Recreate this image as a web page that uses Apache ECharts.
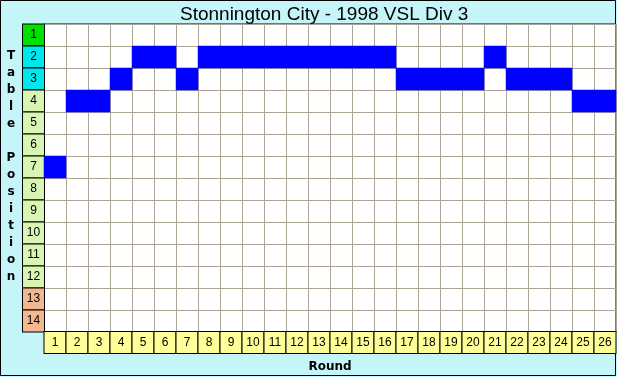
<!DOCTYPE html>
<html>
<head>
<meta charset="utf-8">
<script src="https://cdn.jsdelivr.net/npm/echarts@6/dist/echarts.min.js"></script>
<style>
  html, body { margin: 0; padding: 0; background: #c6f5f9; overflow: hidden; }
  #chart { width: 617px; height: 377px; }
</style>
</head>
<body>
<div id="chart"></div>
<script>
// rounds along the bottom, table positions down the side
const rounds = ['1','2','3','4','5','6','7','8','9','10','11','12','13','14','15','16','17','18','19','20','21','22','23','24','25','26'];
const positions = ['1','2','3','4','5','6','7','8','9','10','11','12','13','14'];
// ladder position after each round
const ladder = [7, 4, 4, 3, 2, 2, 3, 2, 2, 2, 2, 2, 2, 2, 2, 2, 3, 3, 3, 3, 2, 3, 3, 3, 4, 4];
// band of each position: top / finals / middle / relegation
const bands = ['top','fin','fin','mid','mid','mid','mid','mid','mid','mid','mid','mid','rel','rel'];

const myChart = echarts.init(document.getElementById('chart'));

function box(bg) {
    return {
        width: 21, height: 21, align: 'center', verticalAlign: 'middle',
        backgroundColor: bg, borderColor: '#000', borderWidth: 1,
        fontFamily: 'Liberation Sans, Arial, sans-serif', fontSize: 12, color: '#000'
    };
}

const cells = ladder.map((p, i) => [i, p - 1, 1]);

const option = {
    animation: false,
    backgroundColor: '#c6f5f9',
    title: {
        text: 'Stonnington City - 1998 VSL Div 3',
        left: 175,
        top: 0,
        textStyle: { fontFamily: 'Liberation Sans, Arial, sans-serif', fontSize: 19, fontWeight: 'normal', color: '#000' }
    },
    graphic: [
        {
            type: 'rect', z: -10, silent: true,
            shape: { x: 0.5, y: 0.5, width: 615, height: 375 },
            style: { fill: 'none', stroke: '#000', lineWidth: 1 }
        },
        {
            type: 'text', x: 11, y: 47, silent: true,
            style: {
                text: 'T\na\nb\nl\ne\n\nP\no\ns\ni\nt\ni\no\nn',
                fontFamily: 'DejaVu Sans, Verdana, sans-serif', fontSize: 12, fontWeight: 'bold',
                lineHeight: 17, align: 'center', verticalAlign: 'top', fill: '#000'
            }
        }
    ],
    grid: {
        left: 44, top: 24, width: 572, height: 308,
        outerBoundsMode: 'none',
        show: true, backgroundColor: '#fff', borderColor: '#000', borderWidth: 1
    },
    xAxis: {
        type: 'category',
        data: rounds,
        name: 'Round',
        nameLocation: 'middle',
        nameGap: 29,
        nameTextStyle: { fontFamily: 'DejaVu Sans, Verdana, sans-serif', fontSize: 12, fontWeight: 'bold', color: '#000' },
        axisLine: { show: false },
        axisTick: { show: false },
        axisLabel: {
            margin: 0, interval: 0,
            formatter: v => '{y|' + v + '}',
            rich: { y: box('#ffff99') }
        },
        splitLine: { show: true, interval: 0, lineStyle: { color: '#aca494', width: 1 } }
    },
    yAxis: {
        type: 'category',
        data: positions,
        inverse: true,
        axisLine: { show: false },
        axisTick: { show: false },
        axisLabel: {
            margin: 0, interval: 0,
            formatter: (v, i) => '{' + bands[i] + '|' + v + '}',
            rich: {
                top: box('#00e000'),
                fin: box('#00e8ee'),
                mid: box('#d8f5b4'),
                rel: box('#f4b890')
            }
        },
        splitLine: { show: true, interval: 0, lineStyle: { color: '#aca494', width: 1 } }
    },
    series: [
        {
            type: 'heatmap',
            data: cells,
            itemStyle: { color: '#0000ff' },
            emphasis: { disabled: true }
        }
    ]
};

option && myChart.setOption(option);
</script>
</body>
</html>
